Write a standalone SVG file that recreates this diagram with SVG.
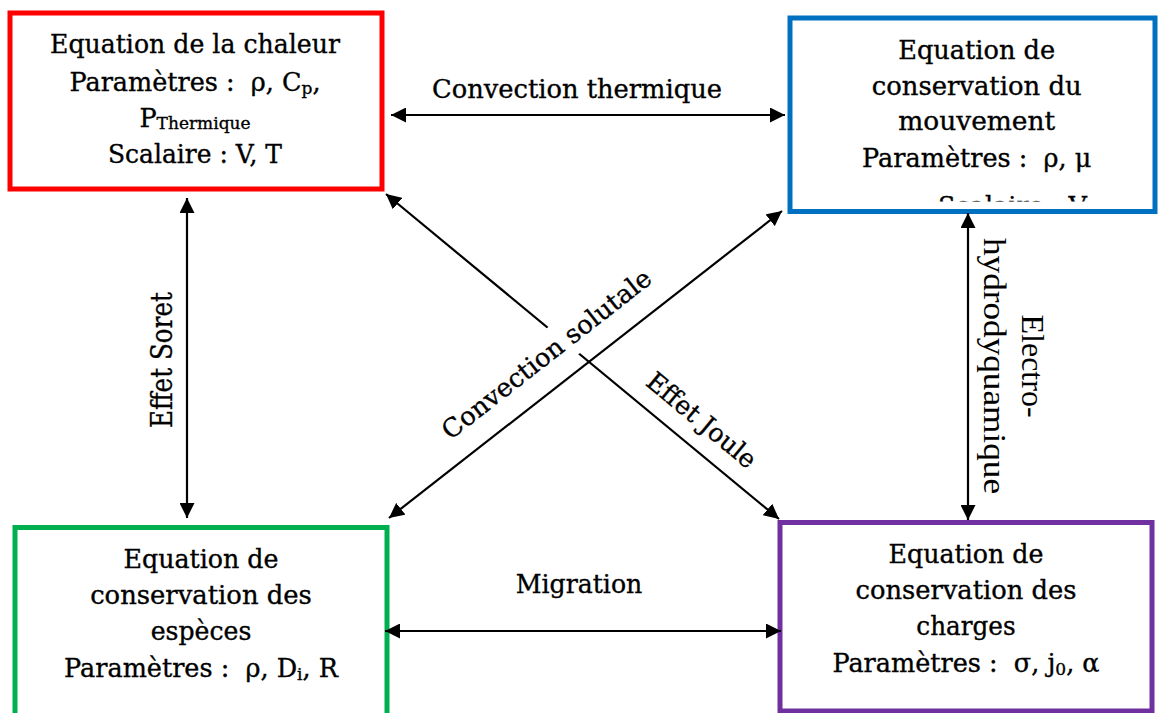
<svg xmlns="http://www.w3.org/2000/svg" width="1158" height="713" viewBox="0 0 1158 713">
<style>
.box { fill: #fff; stroke-width: 5; }
.t { font-family: "DejaVu Serif", "Liberation Serif", serif; font-size: 25.5px; fill: #000; stroke: #000; stroke-width: 0.35px; text-anchor: middle; white-space: pre; }
.tr { font-family: "Liberation Serif", serif; font-size: 32px; fill: #000; text-anchor: middle; }
.sub { font-size: 17px; }
.conn { stroke: #000; stroke-width: 2.2; fill: none; marker-start: url(#ah); marker-end: url(#ah); }
</style>
<defs>
<marker id="ah" viewBox="0 0 15 15" refX="15" refY="7.5" markerWidth="15" markerHeight="15" markerUnits="userSpaceOnUse" orient="auto-start-reverse">
<path d="M0,0 L15,7.5 L0,15 z" fill="#000"/>
</marker>
<clipPath id="clipBlue"><rect x="790" y="0" width="368" height="201.5"/></clipPath>
</defs>
<rect x="0" y="0" width="1158" height="713" fill="#fff"/>

<g id="node-chaleur">
<rect class="box" x="10" y="13" width="372" height="176" stroke="#FF0000"/>
<text class="t" x="195" y="53.3" textLength="290" lengthAdjust="spacingAndGlyphs">Equation de la chaleur</text>
<text class="t" x="195" y="90.7">Paramètres :  ρ, C<tspan class="sub" dy="3">p</tspan><tspan dy="-3">,</tspan></text>
<text class="t" x="195" y="126.7">P<tspan class="sub" dy="2">Thermique</tspan></text>
<text class="t" x="195" y="162.7" textLength="174" lengthAdjust="spacingAndGlyphs">Scalaire : V, T</text>
</g>

<g id="node-mouvement">
<rect class="box" x="790" y="18" width="365" height="193.5" stroke="#0070C0"/>
<text class="t" x="976.7" y="59.3" textLength="157" lengthAdjust="spacingAndGlyphs">Equation de</text>
<text class="t" x="976.7" y="95" textLength="210" lengthAdjust="spacingAndGlyphs">conservation du</text>
<text class="t" x="976.7" y="130" textLength="157" lengthAdjust="spacingAndGlyphs">mouvement</text>
<text class="t" x="976.7" y="166.7">Paramètres :  ρ, μ</text>
<text class="t" x="938" y="215" style="text-anchor:start" clip-path="url(#clipBlue)">Scalaire : V</text>
</g>

<g id="node-especes">
<rect class="box" x="15" y="527.5" width="372" height="200" stroke="#00B050"/>
<text class="t" x="201" y="568.3" textLength="155" lengthAdjust="spacingAndGlyphs">Equation de</text>
<text class="t" x="201" y="604" textLength="221.7" lengthAdjust="spacingAndGlyphs">conservation des</text>
<text class="t" x="201" y="640" textLength="100.7" lengthAdjust="spacingAndGlyphs">espèces</text>
<text class="t" x="201" y="676.7">Paramètres :  ρ, D<tspan class="sub" dy="3">i</tspan><tspan dy="-3">, R</tspan></text>
</g>

<g id="node-charges">
<rect class="box" x="780" y="522.5" width="372" height="188.5" stroke="#7030A0"/>
<text class="t" x="966" y="563.3" textLength="155" lengthAdjust="spacingAndGlyphs">Equation de</text>
<text class="t" x="966" y="599" textLength="221" lengthAdjust="spacingAndGlyphs">conservation des</text>
<text class="t" x="966" y="635" textLength="99.3" lengthAdjust="spacingAndGlyphs">charges</text>
<text class="t" x="966" y="671.7">Paramètres :  σ, j<tspan class="sub" dy="3">0</tspan><tspan dy="-3">, α</tspan></text>
</g>

<g id="connectors">
<line class="conn" x1="391" y1="115" x2="785" y2="115"/>
<line class="conn" x1="385" y1="631" x2="781" y2="631"/>
<line class="conn" x1="187" y1="198" x2="187" y2="518"/>
<line class="conn" x1="968" y1="213" x2="968" y2="520"/>
<line class="conn" x1="386" y1="194" x2="779" y2="519"/>
<rect x="-140" y="-29" width="280" height="40" fill="#fff" transform="translate(552,361) rotate(-38)"/>
<line class="conn" x1="389" y1="518" x2="782" y2="211"/>
</g>

<g id="labels">
<text class="t" x="577" y="98" textLength="290" lengthAdjust="spacingAndGlyphs">Convection thermique</text>
<text class="t" x="579" y="593.3" textLength="126.7" lengthAdjust="spacingAndGlyphs">Migration</text>
<text class="t" transform="translate(172,360) rotate(-90)" style="font-size:29px" textLength="136" lengthAdjust="spacingAndGlyphs">Effet Soret</text>
<text class="tr" transform="translate(1022,366) rotate(90)">Electro-</text>
<text class="tr" transform="translate(984,366) rotate(90)" textLength="256" lengthAdjust="spacingAndGlyphs">hydrodyquamique</text>
<text class="t" transform="translate(552,361) rotate(-38)" textLength="258" lengthAdjust="spacingAndGlyphs">Convection solutale</text>
<text class="t" transform="translate(696,427) rotate(39.6)" textLength="134" lengthAdjust="spacingAndGlyphs">Effet Joule</text>
</g>
</svg>
